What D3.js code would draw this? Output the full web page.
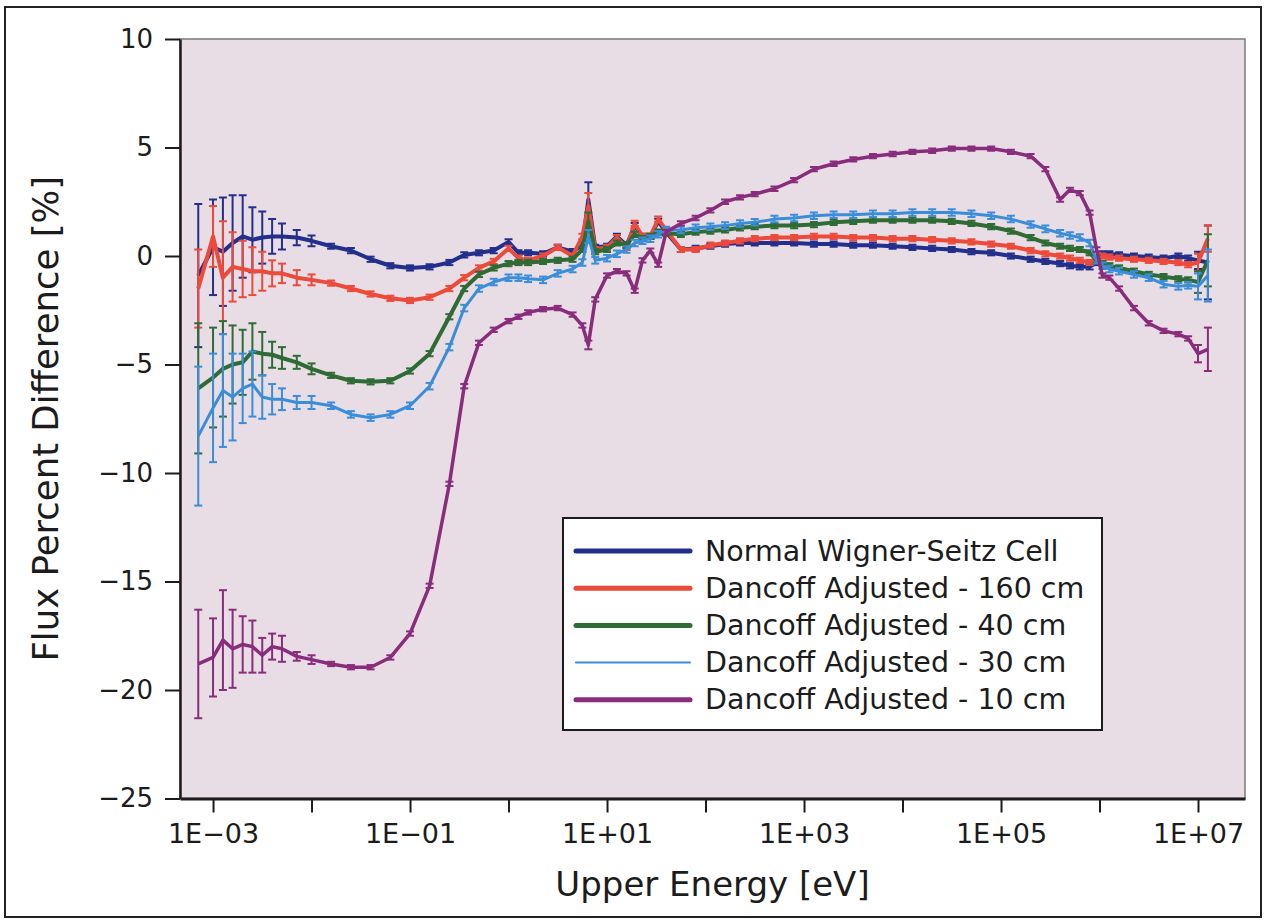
<!DOCTYPE html>
<html><head><meta charset="utf-8">
<script src="https://cdn.jsdelivr.net/npm/d3@7"></script>
<style>
body{margin:0;background:#fff;}
text{font-family:"DejaVu Sans",sans-serif;fill:#1c1c1c;}
</style>
</head><body>
<svg id="chart" width="1265" height="922"></svg>
<script>
// Upper energy of each group [eV]
const energy = [7.08e-4, 1.0e-3, 1.26e-3, 1.58e-3, 2.0e-3, 2.51e-3, 3.16e-3, 3.98e-3, 5.01e-3, 7.08e-3,
  1.0e-2, 1.58e-2, 2.51e-2, 3.98e-2, 6.31e-2, 0.1, 0.158, 0.251, 0.355, 0.501,
  0.708, 1.0, 1.26, 1.58, 2.24, 3.16, 4.47, 5.62, 6.46, 7.59,
  10, 12.6, 15.8, 19.1, 22.9, 27.5, 33.1, 39.8, 56.2, 79.4,
  112, 158, 224, 316, 501, 794, 1260, 2000, 3160, 5010,
  7940, 1.26e4, 2.0e4, 3.16e4, 5.01e4, 7.94e4, 1.26e5, 2.0e5, 2.82e5, 3.98e5,
  5.01e5, 6.31e5, 7.94e5, 9.33e5, 1.07e6, 1.26e6, 1.58e6, 2.24e6, 3.16e6, 4.47e6,
  6.31e6, 7.94e6, 1.0e7, 1.26e7];

const seriesNames = ["Normal Wigner-Seitz Cell", "Dancoff Adjusted - 160 cm", "Dancoff Adjusted - 40 cm", "Dancoff Adjusted - 30 cm", "Dancoff Adjusted - 10 cm"];

const normalWS = [-0.9, 0.4, 0.2, 0.6, 0.9, 0.75, 0.85, 0.9, 0.9, 0.85,
  0.7, 0.45, 0.25, -0.15, -0.45, -0.55, -0.5, -0.3, 0.05, 0.15,
  0.25, 0.65, 0.15, 0.15, 0.1, 0.4, 0.2, 0.5, 2.6, 0.4,
  0.45, 0.9, 0.5, 1.4, 0.9, 0.9, 1.6, 1.1, 0.3, 0.35,
  0.45, 0.55, 0.6, 0.6, 0.6, 0.6, 0.55, 0.55, 0.5, 0.5,
  0.45, 0.4, 0.35, 0.3, 0.2, 0.15, 0.0, -0.15, -0.25, -0.35,
  -0.45, -0.5, -0.5, -0.3, 0.1, 0.1, 0.05, 0.0, -0.05, -0.1,
  0.0, -0.1, -0.2, -0.3];
const normalWSErr = [3.3, 2.2, 2.5, 2.2, 1.9, 1.5, 1.2, 0.8, 0.6, 0.35,
  0.25, 0.12, 0.12, 0.12, 0.12, 0.12, 0.12, 0.12, 0.12, 0.12,
  0.12, 0.12, 0.12, 0.12, 0.12, 0.12, 0.12, 0.12, 0.8, 0.12,
  0.12, 0.12, 0.12, 0.12, 0.12, 0.12, 0.12, 0.12, 0.12, 0.12,
  0.12, 0.12, 0.12, 0.12, 0.12, 0.12, 0.12, 0.12, 0.12, 0.12,
  0.12, 0.12, 0.12, 0.12, 0.12, 0.12, 0.12, 0.12, 0.12, 0.12,
  0.12, 0.12, 0.12, 0.12, 0.12, 0.12, 0.12, 0.12, 0.12, 0.12,
  0.12, 0.12, 0.4, 1.7];

const d160 = [-1.5, 0.9, -1.0, -0.5, -0.6, -0.7, -0.7, -0.8, -0.8, -1.0,
  -1.1, -1.25, -1.5, -1.75, -1.95, -2.05, -1.9, -1.5, -1.0, -0.55,
  -0.25, 0.35, -0.1, -0.2, 0.0, 0.4, 0.0, 0.9, 2.3, 0.3,
  0.4, 0.85, 0.4, 1.5, 0.9, 0.9, 1.7, 1.2, 0.3, 0.3,
  0.5, 0.6, 0.7, 0.8, 0.85, 0.85, 0.9, 0.9, 0.85, 0.85,
  0.8, 0.8, 0.75, 0.7, 0.65, 0.55, 0.45, 0.25, 0.1, 0.0,
  -0.1, -0.2, -0.3, -0.2, 0.0, -0.05, -0.1, -0.15, -0.2, -0.25,
  -0.3, -0.4, -0.3, 0.8];
const d160Err = [1.8, 1.4, 2.6, 1.6, 1.3, 1.1, 0.9, 0.6, 0.45, 0.35,
  0.25, 0.12, 0.12, 0.12, 0.12, 0.12, 0.12, 0.12, 0.12, 0.12,
  0.12, 0.12, 0.12, 0.12, 0.12, 0.12, 0.12, 0.12, 0.6, 0.12,
  0.12, 0.12, 0.12, 0.12, 0.12, 0.12, 0.12, 0.12, 0.12, 0.12,
  0.12, 0.12, 0.12, 0.12, 0.12, 0.12, 0.12, 0.12, 0.12, 0.12,
  0.12, 0.12, 0.12, 0.12, 0.12, 0.12, 0.12, 0.12, 0.12, 0.12,
  0.12, 0.12, 0.12, 0.12, 0.12, 0.12, 0.12, 0.12, 0.12, 0.12,
  0.12, 0.12, 0.4, 0.6];

const d40 = [-6.1, -5.6, -5.2, -5.0, -4.9, -4.4, -4.5, -4.55, -4.7, -4.9,
  -5.2, -5.5, -5.75, -5.8, -5.75, -5.3, -4.5, -2.8, -1.5, -0.85,
  -0.55, -0.35, -0.3, -0.3, -0.25, -0.2, -0.15, 0.3, 1.6, 0.2,
  0.3, 0.6, 0.5, 1.0, 0.8, 0.9, 1.1, 1.05, 1.0, 1.1,
  1.15, 1.2, 1.3, 1.35, 1.4, 1.4, 1.45, 1.55, 1.6, 1.65,
  1.65, 1.65, 1.65, 1.6, 1.5, 1.35, 1.15, 0.85, 0.6, 0.45,
  0.35, 0.3, 0.15, -0.2, -0.35, -0.45, -0.55, -0.7, -0.85, -0.95,
  -1.05, -1.1, -1.2, -0.2];
const d40Err = [3.0, 2.3, 2.2, 1.8, 1.5, 1.3, 1.0, 0.6, 0.5, 0.3,
  0.25, 0.12, 0.12, 0.12, 0.12, 0.12, 0.12, 0.12, 0.12, 0.12,
  0.12, 0.12, 0.12, 0.12, 0.12, 0.12, 0.12, 0.12, 0.4, 0.12,
  0.12, 0.12, 0.12, 0.12, 0.12, 0.12, 0.12, 0.12, 0.12, 0.12,
  0.12, 0.12, 0.12, 0.12, 0.12, 0.12, 0.12, 0.12, 0.12, 0.12,
  0.12, 0.12, 0.12, 0.12, 0.12, 0.12, 0.12, 0.12, 0.12, 0.12,
  0.12, 0.12, 0.12, 0.12, 0.12, 0.12, 0.12, 0.12, 0.12, 0.12,
  0.12, 0.12, 0.5, 1.2];

const d30 = [-8.3, -7.0, -6.2, -6.5, -6.1, -5.9, -6.5, -6.6, -6.6, -6.75,
  -6.75, -6.9, -7.3, -7.45, -7.3, -6.9, -6.0, -4.2, -2.4, -1.5,
  -1.2, -1.0, -1.0, -1.05, -1.1, -0.8, -0.6, -0.3, 0.9, -0.2,
  -0.1, 0.1, 0.3, 0.6, 0.7, 0.8, 1.0, 1.2, 1.2, 1.3,
  1.35, 1.4, 1.5, 1.55, 1.7, 1.75, 1.85, 1.9, 1.9, 1.95,
  1.95, 2.0, 2.0, 2.0, 1.95, 1.85, 1.7, 1.45, 1.25, 1.05,
  0.95, 0.85, 0.6, -0.2, -0.45, -0.6, -0.7, -0.85, -1.0, -1.3,
  -1.4, -1.35, -1.4, -0.9];
const d30Err = [3.2, 2.5, 2.6, 2.0, 1.6, 1.5, 1.0, 0.7, 0.5, 0.3,
  0.3, 0.15, 0.15, 0.15, 0.15, 0.15, 0.15, 0.15, 0.15, 0.15,
  0.15, 0.15, 0.15, 0.15, 0.15, 0.15, 0.15, 0.15, 0.3, 0.15,
  0.15, 0.15, 0.15, 0.15, 0.15, 0.15, 0.15, 0.15, 0.15, 0.15,
  0.15, 0.15, 0.15, 0.15, 0.15, 0.15, 0.15, 0.15, 0.15, 0.15,
  0.15, 0.15, 0.15, 0.15, 0.15, 0.15, 0.15, 0.15, 0.15, 0.15,
  0.15, 0.15, 0.15, 0.15, 0.15, 0.15, 0.15, 0.15, 0.15, 0.15,
  0.15, 0.15, 0.6, 1.2];

const d10 = [-18.8, -18.5, -17.7, -18.1, -17.9, -18.0, -18.4, -18.0, -18.1, -18.45,
  -18.6, -18.8, -18.95, -18.95, -18.5, -17.4, -15.2, -10.5, -6.0, -4.0,
  -3.4, -3.0, -2.8, -2.6, -2.45, -2.4, -2.7, -3.2, -4.1, -2.0,
  -0.9, -0.7, -0.8, -1.6, -0.2, 0.25, -0.4, 1.1, 1.5, 1.75,
  2.1, 2.5, 2.7, 2.85, 3.1, 3.5, 4.0, 4.25, 4.45, 4.6,
  4.7, 4.8, 4.85, 4.95, 4.95, 4.95, 4.8, 4.6, 4.0, 2.6,
  3.05, 2.9, 2.0, 0.3, -0.9, -1.0, -1.5, -2.4, -3.1, -3.45,
  -3.6, -3.8, -4.5, -4.3];
const d10Err = [2.5, 1.8, 2.3, 1.8, 1.3, 1.2, 0.8, 0.6, 0.6, 0.2,
  0.2, 0.1, 0.1, 0.1, 0.1, 0.1, 0.1, 0.1, 0.1, 0.1,
  0.1, 0.1, 0.1, 0.1, 0.1, 0.1, 0.1, 0.1, 0.2, 0.1,
  0.1, 0.1, 0.1, 0.1, 0.1, 0.1, 0.1, 0.1, 0.1, 0.1,
  0.1, 0.1, 0.1, 0.1, 0.1, 0.1, 0.1, 0.1, 0.1, 0.1,
  0.1, 0.1, 0.1, 0.1, 0.1, 0.1, 0.1, 0.1, 0.1, 0.1,
  0.1, 0.1, 0.1, 0.1, 0.1, 0.1, 0.1, 0.1, 0.1, 0.1,
  0.1, 0.1, 0.4, 1.0];

const xTickValues = [1e-3, 1e-2, 1e-1, 1e0, 1e1, 1e2, 1e3, 1e4, 1e5, 1e6, 1e7];
const xTickLabels = ["1E\u221203", "", "1E\u221201", "", "1E+01", "", "1E+03", "", "1E+05", "", "1E+07"];
const yTickValues = [10, 5, 0, -5, -10, -15, -20, -25];

const series = [
  {name: seriesNames[0], values: normalWS, err: normalWSErr, color: "#222f8c", width: 4, legendWidth: 5},
  {name: seriesNames[1], values: d160, err: d160Err, color: "#ec4a3b", width: 4, legendWidth: 5},
  {name: seriesNames[2], values: d40, err: d40Err, color: "#2f6b34", width: 4, legendWidth: 5},
  {name: seriesNames[3], values: d30, err: d30Err, color: "#3a8ed9", width: 3, legendWidth: 2},
  {name: seriesNames[4], values: d10, err: d10Err, color: "#8a2c7c", width: 3.5, legendWidth: 5}
];

const svg = d3.select("#chart");
const L = 180, R = 1245, T = 39, B = 798.5;
const x = d3.scaleLog().domain([4.62e-4, 3.0e7]).range([L, R]);
const y = d3.scaleLinear().domain([-25, 10]).range([B, T]);

// outer frame
svg.append("rect").attr("x", 5).attr("y", 7).attr("width", 1256).attr("height", 910)
  .attr("fill", "#fff").attr("stroke", "#222").attr("stroke-width", 2);

// plot background
svg.append("rect").attr("x", L).attr("y", T).attr("width", R - L).attr("height", B - T)
  .attr("fill", "#e8dde4").attr("stroke", "#7a7a7a").attr("stroke-width", 1.5);

svg.append("clipPath").attr("id", "clip").append("rect")
  .attr("x", L).attr("y", T).attr("width", R - L).attr("height", B - T);

const plot = svg.append("g").attr("clip-path", "url(#clip)");
const line = d3.line().x((d) => x(d.e)).y((d) => y(d.v));

series.forEach((s) => {
  const pts = energy.map((e, i) => ({e: e, v: s.values[i], err: s.err[i]}));
  const g = plot.append("g");
  g.append("path").datum(pts).attr("d", line).attr("fill", "none")
    .attr("stroke", s.color).attr("stroke-width", s.width).attr("stroke-linejoin", "round");
  const eb = g.selectAll("g.eb").data(pts).join("g").attr("class", "eb")
    .attr("stroke", s.color).attr("stroke-width", 2);
  eb.append("line").attr("x1", (d) => x(d.e)).attr("x2", (d) => x(d.e))
    .attr("y1", (d) => y(d.v - d.err)).attr("y2", (d) => y(d.v + d.err));
  eb.append("line").attr("x1", (d) => x(d.e) - 4).attr("x2", (d) => x(d.e) + 4)
    .attr("y1", (d) => y(d.v + d.err)).attr("y2", (d) => y(d.v + d.err));
  eb.append("line").attr("x1", (d) => x(d.e) - 4).attr("x2", (d) => x(d.e) + 4)
    .attr("y1", (d) => y(d.v - d.err)).attr("y2", (d) => y(d.v - d.err));
});

// axes
const yAxis = svg.append("g").attr("transform", `translate(${L},0)`)
  .call(d3.axisLeft(y).tickValues(yTickValues).tickSize(15).tickSizeOuter(0).tickPadding(12)
    .tickFormat((d) => d < 0 ? "\u2212" + (-d) : String(d)));
yAxis.select(".domain").attr("stroke", "#1c1c1c").attr("stroke-width", 2.5);
yAxis.selectAll(".tick line").attr("stroke", "#1c1c1c").attr("stroke-width", 2);
yAxis.selectAll("text").attr("font-size", 26).attr("font-family", "DejaVu Sans").attr("fill", "#1c1c1c");

const xAxis = svg.append("g").attr("transform", `translate(0,${B})`)
  .call(d3.axisBottom(x).tickValues(xTickValues).tickSize(14).tickSizeOuter(0).tickPadding(11)
    .tickFormat((d, i) => xTickLabels[i]));
xAxis.select(".domain").attr("stroke", "#1c1c1c").attr("stroke-width", 3);
xAxis.selectAll(".tick line").attr("stroke", "#1c1c1c").attr("stroke-width", 2);
xAxis.selectAll("text").attr("font-size", 27).attr("font-family", "DejaVu Sans").attr("fill", "#1c1c1c");

// axis titles
svg.append("text").attr("x", (L + R) / 2).attr("y", 896).attr("text-anchor", "middle")
  .attr("font-size", 34).text("Upper Energy [eV]");
svg.append("text").attr("transform", `translate(45,${(T + B) / 2}) rotate(-90)`)
  .attr("text-anchor", "middle").attr("dominant-baseline", "central")
  .attr("font-size", 35.5).text("Flux Percent Difference [%]");

// legend
const lg = svg.append("g");
lg.append("rect").attr("x", 563).attr("y", 518).attr("width", 539).attr("height", 212)
  .attr("fill", "#fff").attr("stroke", "#1c1c1c").attr("stroke-width", 2);
series.forEach((s, i) => {
  const cy = 551 + i * 37.2;
  lg.append("line").attr("x1", 576).attr("x2", 690).attr("y1", cy).attr("y2", cy)
    .attr("stroke", s.color).attr("stroke-width", s.legendWidth).attr("stroke-linecap", "round");
  lg.append("text").attr("x", 705).attr("y", cy).attr("dominant-baseline", "central")
    .attr("font-size", 28.5).text(s.name);
});
</script>
</body></html>
